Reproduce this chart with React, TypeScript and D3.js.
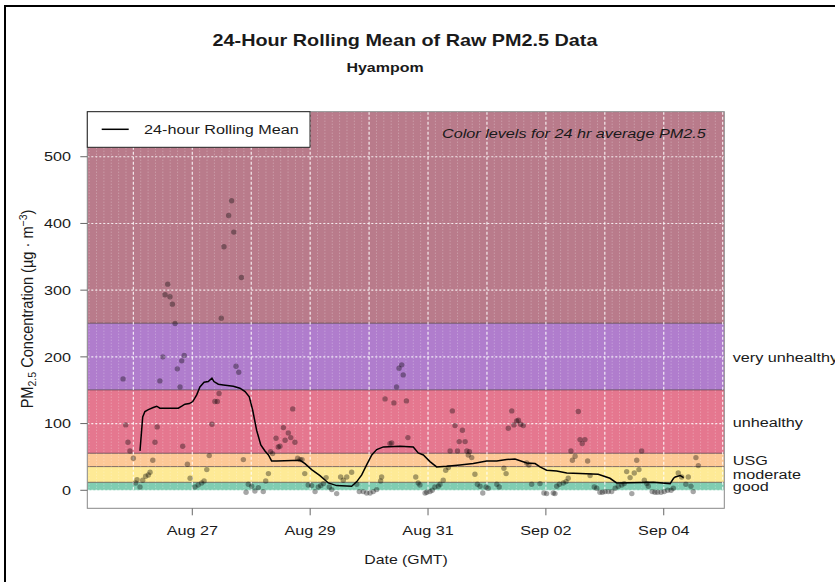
import { useEffect, useRef } from 'react'
import * as d3 from 'd3'

// hours since 2018-08-25 00:00 GMT
const pointHours = [
  19.8, 20.9, 21.8, 22.6, 24.0, 24.9, 25.5, 26.7, 27.8, 29.0, 30.1, 30.8, 31.9, 32.8, 33.7, 34.8, 36.0, 36.9, 38.0, 38.9,
  39.9, 41.0, 41.9, 43.0, 43.7, 44.1, 44.7, 46.0, 47.1, 49.1, 50.4, 51.8, 52.8, 53.9, 54.9, 56.0, 57.2, 58.2, 58.9, 59.8,
  60.9, 62.8, 64.0, 64.9, 65.8, 66.9, 68.0, 68.8, 69.9, 70.8, 72.2, 73.5, 74.9, 76.9, 77.9, 79.0, 79.9, 80.7, 82.1, 83.0,
  83.7, 85.1, 85.8, 87.1, 88.1, 88.9, 89.8, 90.9, 91.9, 92.7, 93.8, 95.2, 96.6, 98.0, 99.3, 100.3, 101.4, 102.5, 103.8, 104.8,
  106.8, 108.4, 109.5, 110.9, 112.9, 115.0, 116.0, 117.6, 119.0, 120.4, 121.7, 123.1, 124.7, 125.1, 126.5, 128.5, 129.2, 130.1, 131.2, 132.2,
  133.3, 133.9, 135.2, 135.8, 139.0, 140.0, 140.7, 142.8, 143.5, 144.8, 145.7, 146.8, 148.2, 148.9, 150.2, 151.2, 152.3, 153.0, 153.9, 155.0,
  156.0, 156.7, 158.0, 159.1, 159.8, 160.4, 160.9, 161.8, 163.1, 164.1, 165.2, 166.3, 167.6, 168.5, 172.0, 173.0, 174.9, 175.8, 176.7, 178.1,
  179.0, 180.1, 180.8, 181.7, 182.8, 184.2, 185.1, 186.2, 189.6, 191.2, 192.3, 195.0, 195.7, 196.4, 197.5, 199.1, 200.2, 201.1, 202.2, 202.8,
  203.9, 205.2, 205.9, 206.8, 207.9, 209.0, 210.0, 211.7, 212.7, 214.0, 215.0, 216.1, 217.4, 218.8, 220.2, 221.5, 222.9, 223.9, 224.9, 226.3,
  227.0, 228.0, 229.0, 229.9, 231.0, 232.1, 233.1, 233.7, 235.3, 236.4, 237.5, 238.9, 240.2, 241.6, 243.0, 243.9, 245.9, 247.3, 249.0, 250.0,
  251.1, 252.0, 253.1, 254.1,
]
const pointValues = [
  167, 98, 72, 59, 48, 11, 16, 5, 15, 21, 23, 27, 45, 72, 95, 164, 200, 293, 309, 290,
  279, 250, 182, 155, 194, 66, 202, 39, 18, 5, 8, 11, 14, 31, 52, 99, 133, 133, 145, 258,
  365, 412, 434, 387, 186, 177, 319, 46, -3, 9, 6, -1, 4, -2, 14, 25, 58, 55, 78, 65,
  66, 94, 75, 86, 79, 122, 72, 48, 46, 46, 25, 8, 7, -2, 5, 7, 10, 19, 5, 1,
  -5, 20, 15, 20, 27, 9, -2, -2, -4, -4, -2, 1, 14, 20, 137, 70, 71, 131, 155, 183,
  188, 173, 134, 79, 20, 11, 8, -4, -3, -2, 0, 5, 6, 9, 15, 30, 34, 59, 119, 97,
  59, 73, 90, 73, 59, 53, 58, 49, 24, 9, 6, -4, 5, 3, 9, 5, 33, 25, 93, 119,
  98, 104, 105, 99, 97, 41, 38, 9, 10, -4, -5, -4, -5, 6, 9, 11, 13, 18, 59, 45,
  51, 118, 76, 70, 76, 44, 22, 5, 3, -3, -3, -2, -2, -2, 3, 6, 8, 10, 28, 19,
  -5, 26, 45, 31, 59, 15, 10, 6, -2, -3, -3, -3, -2, 0, 0, 3, 26, 20, 9, 20,
  6, -2, 49, 37,
]

const meanHours = [
  26.7, 27.8, 28.7, 30.1, 32.1, 33.5, 34.8, 37.6, 42.3, 43.7, 45.0, 46.8, 48.2, 49.8, 51.1, 52.8, 54.5, 56.0, 56.8, 58.6,
  60.6, 64.7, 67.4, 69.5, 71.2, 72.6, 74.2, 75.9, 77.6, 79.0, 80.3, 82.4, 91.9, 93.9, 96.6, 100.0, 103.4, 106.8, 112.9, 115.0,
  117.0, 119.0, 121.1, 123.1, 125.8, 132.6, 138.0, 140.0, 142.1, 144.8, 147.5, 151.6, 157.0, 162.4, 167.9, 172.0, 176.0, 179.4, 184.2, 187.6,
  189.6, 192.3, 196.4, 200.5, 205.9, 213.3, 218.1, 220.8, 235.8, 242.6, 244.0, 244.7, 246.7, 248.1,
]
const meanValues = [
  59, 110, 118, 121, 124, 126, 123, 123, 123, 126, 129, 130, 133, 143, 155, 162, 163, 168, 163, 159,
  158, 156, 153, 148, 140, 120, 90, 68, 59, 53, 44, 44, 45, 40, 31, 22, 11, 7, 6, 13,
  23, 38, 53, 61, 65, 66, 65, 56, 53, 43, 35, 36, 38, 40, 44, 44, 46, 47, 41, 40,
  35, 30, 29, 26, 25, 24, 18, 11, 12, 10, 18, 20, 22, 19,
]

const bandBreaks = [0, 12, 35.5, 55.5, 150.5, 250.5, 10000]
const bandColors = ['#80cdb2', '#feea96', '#fdc896', '#e5778f', '#b07dcd', '#b97b8b']
const bandLabels = ['good', 'moderate', 'USG', 'unhealthy', 'very unhealthy', '']
const yTicks = [0, 100, 200, 300, 400, 500]
const xTickDays = ['2018-08-27', '2018-08-29', '2018-08-31', '2018-09-02', '2018-09-04']

const W = 835
const H = 582
const SX = 1.2 // text in the reference is horizontally stretched
const FONT = '"Liberation Sans", Arial, Helvetica, sans-serif'
const BASE = Date.UTC(2018, 7, 25)
const hr = (h: number) => new Date(BASE + h * 3600e3)

export default function App() {
  const svgRef = useRef<SVGSVGElement>(null)

  useEffect(() => {
    if (!svgRef.current) return
    const svg = d3.select(svgRef.current)
    svg.selectAll('*').remove()

    const left = 87.3, right = 724.3, top = 111.7, bottom = 508.3
    const x = d3.scaleUtc().domain([hr(5.24), hr(264.66)]).range([left, right])
    const y = d3.scaleLinear().domain([-27, 567.5]).range([bottom, top])

    const text = (px: number, py: number, s: string, size: number, anchor = 'start', extra: Record<string, string> = {}) => {
      const t = svg.append('text')
        .attr('transform', `translate(${px},${py}) scale(${SX},1)`)
        .attr('font-family', FONT).attr('font-size', size).attr('fill', '#1a1a1a')
        .attr('text-anchor', anchor).text(s)
      Object.entries(extra).forEach(([k, v]) => t.attr(k, v))
      return t
    }

    // outer frame (right/bottom fall outside the picture)
    svg.append('path').attr('d', `M5,${H + 10} L5,6 L${W + 10},6`)
      .attr('fill', 'none').attr('stroke', '#000').attr('stroke-width', 2)

    svg.append('defs').append('clipPath').attr('id', 'plot')
      .append('rect').attr('x', left).attr('y', top).attr('width', right - left).attr('height', bottom - top)
    const g = svg.append('g').attr('clip-path', 'url(#plot)')

    // AQI bands
    bandColors.forEach((c, i) => {
      const y0 = y(bandBreaks[i]), y1 = Math.max(y(bandBreaks[i + 1]), top)
      g.append('rect').attr('x', left).attr('width', right - left)
        .attr('y', y1).attr('height', y0 - y1).attr('fill', c)
      if (i > 0) {
        g.append('line').attr('x1', left).attr('x2', right).attr('y1', y0).attr('y2', y0)
          .attr('stroke', '#4a3a40').attr('stroke-opacity', 0.7).attr('stroke-width', 1)
      }
    })

    // grid: minor every 3 h, major each day, horizontal at y ticks
    const [d0, d1] = x.domain()
    d3.utcHour.every(3)!.range(d0, d1).forEach(d => {
      const major = d.getUTCHours() === 0
      g.append('line').attr('x1', x(d)).attr('x2', x(d)).attr('y1', top).attr('y2', bottom)
        .attr('stroke', '#fff').attr('stroke-width', major ? 1.2 : 0.8)
        .attr('stroke-opacity', major ? 0.85 : 0.45).attr('stroke-dasharray', major ? '3,2' : '1,2')
    })
    yTicks.forEach(v => {
      g.append('line').attr('x1', left).attr('x2', right).attr('y1', y(v)).attr('y2', y(v))
        .attr('stroke', '#fff').attr('stroke-width', 1.1).attr('stroke-opacity', 0.85).attr('stroke-dasharray', '2,2')
    })

    // raw points
    g.selectAll('circle.pt').data(pointHours).join('circle')
      .attr('cx', h => x(hr(h))).attr('cy', (_, i) => y(pointValues[i])).attr('r', 2.7)
      .attr('fill', '#000').attr('fill-opacity', 0.35)

    // rolling mean
    const line = d3.line<number>().x(h => x(hr(h))).y((_, i) => y(meanValues[i]))
    g.append('path').attr('d', line(meanHours)).attr('fill', 'none').attr('stroke', '#000').attr('stroke-width', 1.5)

    // plot box
    svg.append('rect').attr('x', left).attr('y', top).attr('width', right - left).attr('height', bottom - top)
      .attr('fill', 'none').attr('stroke', '#888').attr('stroke-width', 1)

    // axes
    xTickDays.forEach(s => {
      const d = new Date(s + 'T00:00:00Z')
      svg.append('line').attr('x1', x(d)).attr('x2', x(d)).attr('y1', bottom).attr('y2', bottom + 7).attr('stroke', '#666')
      text(x(d), 535, d3.utcFormat('%b %d')(d), 13.5, 'middle')
    })
    yTicks.forEach(v => {
      svg.append('line').attr('x1', left - 7).attr('x2', left).attr('y1', y(v)).attr('y2', y(v)).attr('stroke', '#666')
      text(71, y(v) + 4.7, String(v), 13.5, 'end')
    })

    // band labels at right
    bandLabels.forEach((lab, i) => {
      if (!lab) return
      const mid = (bandBreaks[i] + bandBreaks[i + 1]) / 2
      text(732.7, y(mid) + 5, lab, 13.5)
    })

    // titles
    text(405, 46, '24-Hour Rolling Mean of Raw PM2.5 Data', 16.5, 'middle', { 'font-weight': 'bold' })
    text(385, 72, 'Hyampom', 13.3, 'middle', { 'font-weight': 'bold' })
    text(406, 564, 'Date (GMT)', 13.2, 'middle')

    // y label, rotated; the screen-horizontal stretch widens the glyphs, not the run
    const yl = svg.append('text')
      .attr('transform', `translate(33,${(top + bottom) / 2 - 1}) rotate(-90) scale(1,1.08)`)
      .attr('font-family', FONT).attr('font-size', 14.6).attr('fill', '#1a1a1a').attr('text-anchor', 'middle')
    yl.append('tspan').text('PM')
    yl.append('tspan').attr('font-size', 10.5).attr('dy', 3).text('2.5')
    yl.append('tspan').attr('dy', -3).text(' Concentration (µg · m')
    yl.append('tspan').attr('font-size', 10.5).attr('dy', -6).text('−3')
    yl.append('tspan').attr('dy', 6).text(')')

    // legend
    svg.append('rect').attr('x', left).attr('y', top).attr('width', 310 - left).attr('height', 147.3 - top)
      .attr('fill', '#fff').attr('stroke', '#222').attr('stroke-width', 1)
    svg.append('line').attr('x1', 101.7).attr('x2', 128.7).attr('y1', 129.3).attr('y2', 129.3)
      .attr('stroke', '#000').attr('stroke-width', 1.5)
    text(144, 134.3, '24-hour Rolling Mean', 13.5)

    text(705.7, 138.3, 'Color levels for 24 hr average PM2.5', 13.5, 'end', { 'font-style': 'italic' })
  }, [])

  return (
    <div style={{ position: 'absolute', left: 0, top: 0, background: '#fff' }}>
      <svg ref={svgRef} width={W} height={H} style={{ display: 'block' }} />
    </div>
  )
}
